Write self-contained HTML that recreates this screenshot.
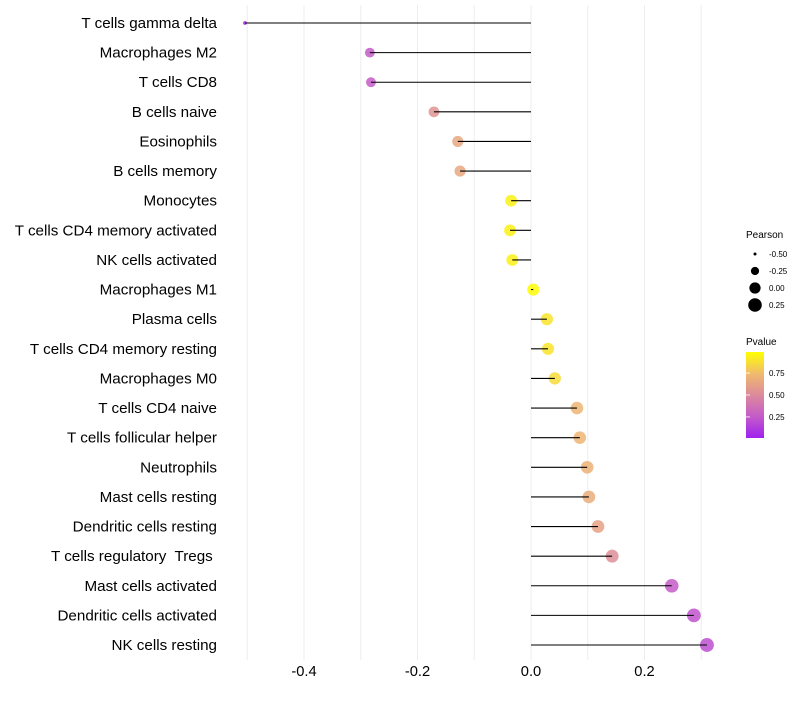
<!DOCTYPE html>
<html><head><meta charset="utf-8"><style>
body{margin:0;background:#fff;font-family:"Liberation Sans",sans-serif}
svg text{font-family:"Liberation Sans",sans-serif;white-space:pre}
</style></head><body>
<svg id="chart" width="800" height="700" xmlns="http://www.w3.org/2000/svg">
<g id="grid"></g>
<g id="ylabels"></g>
<g id="marks"></g>
<g id="xticks"></g>
<g id="sizeLegend">
<text x="746" y="238" font-size="10" fill="#000">Pearson</text>
</g>
<g>
<text x="746" y="345" font-size="10" fill="#000">Pvalue</text>
<defs><linearGradient id="pg" x1="0" y1="1" x2="0" y2="0">
<stop offset="0" stop-color="#a020f0"/><stop offset="0.25" stop-color="#c45bc8"/><stop offset="0.5" stop-color="#dc8a9c"/><stop offset="0.75" stop-color="#f0bb6d"/><stop offset="1" stop-color="#ffff00"/></linearGradient></defs>
<rect x="746" y="352" width="18" height="86" fill="url(#pg)"/>
<g id="colorTicks"></g>
</g>
</svg>
<script>
const categories=["T cells gamma delta","Macrophages M2","T cells CD8","B cells naive","Eosinophils","B cells memory","Monocytes","T cells CD4 memory activated","NK cells activated","Macrophages M1","Plasma cells","T cells CD4 memory resting","Macrophages M0","T cells CD4 naive","T cells follicular helper","Neutrophils","Mast cells resting","Dendritic cells resting","T cells regulatory  Tregs ","Mast cells activated","Dendritic cells activated","NK cells resting"];
const pearson=[-0.504,-0.284,-0.282,-0.171,-0.129,-0.125,-0.035,-0.037,-0.033,0.004,0.028,0.030,0.042,0.081,0.086,0.099,0.102,0.118,0.143,0.248,0.287,0.310];
const pvalues=[0.02,0.25,0.25,0.55,0.65,0.65,0.95,0.95,0.95,0.99,0.9,0.9,0.87,0.72,0.72,0.7,0.68,0.62,0.52,0.25,0.22,0.2];
const xTicks=[-0.4,-0.2,0.0,0.2];
const xGrid=[-0.5,-0.4,-0.3,-0.2,-0.1,0,0.1,0.2,0.3];
const sizeLegendVals=[-0.5,-0.25,0,0.25];
const colorTickVals=[0.25,0.5,0.75];
const NS="http://www.w3.org/2000/svg";
const X=v=>531+v*567.5;
const Y=i=>23+i*(622/21);
function R(v){let a; if(v>=-0.28) a=36+41*v; else a=24.5-(-0.28-v)/0.22*20.5; return Math.sqrt(Math.max(3,a));}
const RL=v=>Math.sqrt(Math.max(1,31.5+58.4*v));
const stops=[[0,[160,32,240]],[0.25,[196,91,200]],[0.5,[220,138,156]],[0.75,[240,187,109]],[1,[255,255,0]]];
function col(p){for(let i=1;i<stops.length;i++){if(p<=stops[i][0]){const a=stops[i-1],b=stops[i],t=(p-a[0])/(b[0]-a[0]);return "rgb("+a[1].map((c,k)=>Math.round(c+(b[1][k]-c)*t)).join(",")+")";}}return "rgb(255,255,0)";}
function mk(tag,attrs,parent){const e=document.createElementNS(NS,tag);for(const k in attrs)e.setAttribute(k,attrs[k]);parent.appendChild(e);return e;}
const grid=document.getElementById('grid');
xGrid.forEach(v=>{const l=mk('line',{x1:X(v),x2:X(v),y1:5,y2:660,stroke:'#ededed','stroke-width':1},grid);

});
const yl=document.getElementById('ylabels');
categories.forEach((c,i)=>{const t=mk('text',{x:217,y:Y(i)+5,'font-size':15.2,'text-anchor':'end',fill:'#000'},yl);t.textContent=c;

});
const mg=document.getElementById('marks');
categories.forEach((c,i)=>{const v=pearson[i];
const ci=mk('circle',{cx:X(v),cy:Y(i),r:R(v),fill:col(pvalues[i]),'fill-opacity':0.85},mg);


const l=mk('line',{x1:X(0),x2:X(v),y1:Y(i),y2:Y(i),stroke:'#000','stroke-width':1.1},mg);

});
const xt=document.getElementById('xticks');
xTicks.forEach(v=>{const t=mk('text',{x:X(v),y:676,'font-size':14.7,'text-anchor':'middle',fill:'#000'},xt);t.textContent=v.toFixed(1);

});
const sl=document.getElementById('sizeLegend');
sizeLegendVals.forEach((v,i)=>{const y=254+i*17;
const c=mk('circle',{cx:755,cy:y,r:RL(v),fill:'#000'},sl);


const t=mk('text',{x:769,y:y+3,'font-size':8,fill:'#000'},sl);t.textContent=v.toFixed(2);

});
const ct=document.getElementById('colorTicks');
colorTickVals.forEach(p=>{const y=438-(p-0.01)/0.98*86;
const l=mk('line',{x1:746,x2:750,y1:y,y2:y,stroke:'#fff','stroke-width':0.8},ct);


const t=mk('text',{x:769,y:y+3,'font-size':8,fill:'#000'},ct);t.textContent=p.toFixed(2);

});
</script>
</body></html>
